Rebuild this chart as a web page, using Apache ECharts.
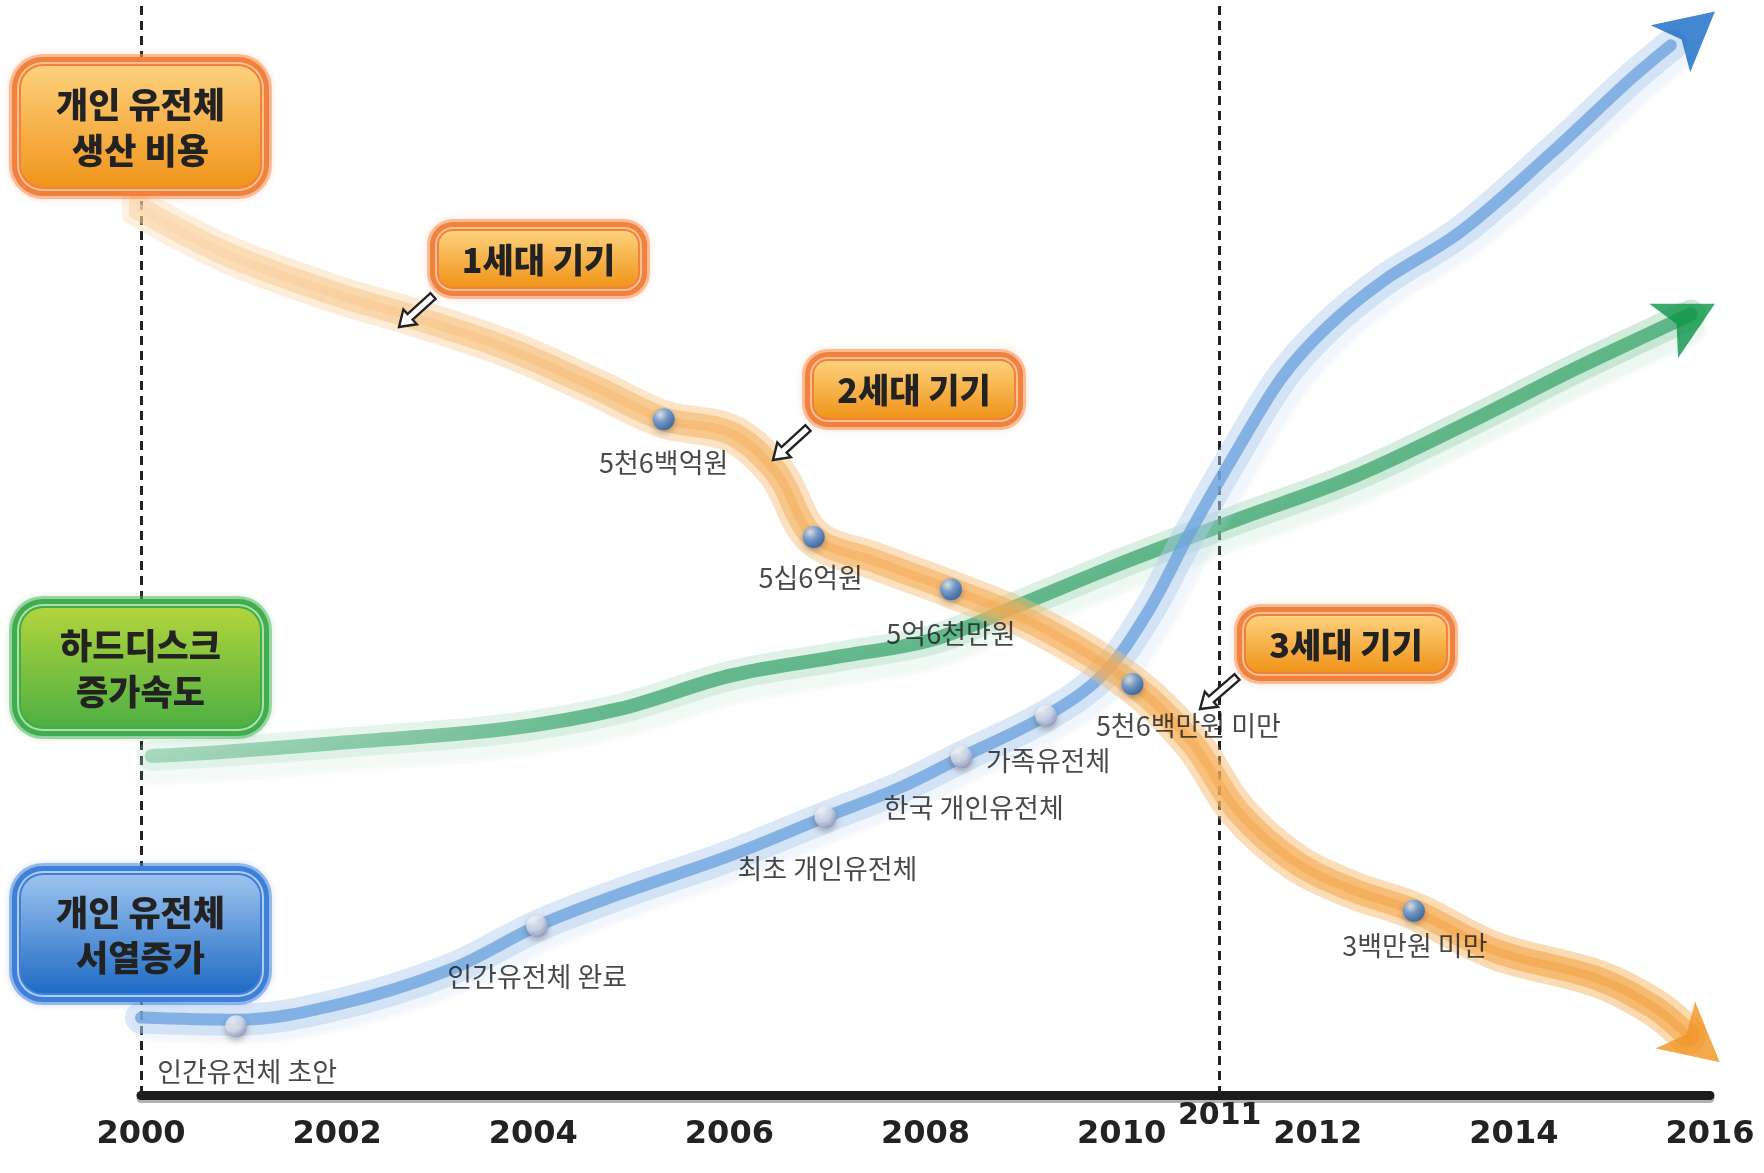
<!DOCTYPE html>
<html><head><meta charset="utf-8">
<script src="https://cdn.jsdelivr.net/npm/echarts@6/dist/echarts.min.js"></script>
<style>html,body{margin:0;padding:0;background:#fff}#c{width:1764px;height:1173px}</style>
</head><body><div id="c"></div>
<script>
// ---------- data (x = year, y = relative level 0..100) ----------
const xTicks = [2000, 2002, 2004, 2006, 2008, 2010, 2012, 2014, 2016];
const markYears = [2000, 2011];

const costCurve = [[1999.95,81.5],[2000.86,77.2],[2002.01,73.4],[2002.69,71.6],[2003.73,68.5],[2004.64,64.9],[2005.33,62.0],[2006.02,60.7],[2006.48,57.1],[2006.86,51.2],[2007.51,48.9],[2008.26,46.4],[2009.12,43.2],[2010.11,37.7],[2010.72,32.3],[2011.18,26.1],[2011.75,21.5],[2012.33,18.9],[2012.98,16.9],[2013.82,13.2],[2014.85,10.7],[2015.42,8.1],[2015.77,5.5]];
const diskCurve = [[2000.11,31.1],[2000.86,31.5],[2002.01,32.3],[2003.73,33.6],[2004.87,35.4],[2006.02,38.5],[2007.17,40.3],[2008.08,41.8],[2008.89,44.7],[2010.03,48.9],[2011.18,52.8],[2012.33,56.6],[2013.47,61.4],[2014.62,66.6],[2015.42,70.0],[2015.80,71.6]];
const seqCurve = [[2000.0,7.1],[2000.97,6.9],[2002.01,8.3],[2003.15,11.5],[2004.04,15.5],[2004.87,18.4],[2006.02,22.0],[2006.98,25.5],[2007.74,28.2],[2008.37,31.0],[2009.23,34.8],[2009.80,38.5],[2010.26,44.2],[2010.72,52.0],[2011.18,59.2],[2011.64,65.9],[2012.10,70.5],[2012.67,74.7],[2013.47,79.3],[2014.39,86.5],[2015.19,93.2],[2015.60,96.3]];

const costPoints = [[2005.33,62.0],[2006.86,51.2],[2008.26,46.4],[2010.11,37.7],[2012.98,16.9]];
const costLabels = ['5천6백억원','5십6억원','5억6천만원','5천6백만원 미만','3백만원 미만'];
const seqPoints = [[2000.97,6.3],[2004.04,15.5],[2006.98,25.5],[2008.37,31.0],[2009.23,34.8]];
const seqLabels = ['인간유전체 초안','인간유전체 완료','최초 개인유전체','한국 개인유전체','가족유전체'];

// arrow tips
const arrowHeads = { cost:[2016.10,3.0], disk:[2016.05,72.6], seq:[2016.05,99.4] };

// ---------- styling (offsets, sizes) ----------
const costLabelOffsets = [[0,44],[-3,41],[0,44],[56,42],[1,35]];
const seqLabelOffsets  = [[11,45],[0,51],[2,52],[12,51],[2,45]];

const KR = '"Noto Sans CJK KR", "Noto Sans", sans-serif';
const G = echarts.graphic;

function bandLayers(name, data, layers, z) {
  return layers.map((l, i) => ({
    name: name + i, type: 'line', data: data, smooth: 0.35,
    symbol: 'none', clip: false, silent: true, z: z + i,
    lineStyle: Object.assign({ cap: 'round', join: 'round' }, l)
  }));
}

const costLayers = [
  { width: 38, color: new G.LinearGradient(0,0,1,0,[{offset:0,color:'rgba(250,215,170,0.35)'},{offset:0.4,color:'rgba(247,190,120,0.45)'},{offset:1,color:'rgba(246,180,95,0.5)'}]) },
  { width: 24, color: new G.LinearGradient(0,0,1,0,[{offset:0,color:'rgba(249,205,150,0.45)'},{offset:0.4,color:'rgba(245,175,90,0.55)'},{offset:1,color:'rgba(243,165,70,0.6)'}]) },
  { width: 9,  color: new G.LinearGradient(0,0,1,0,[{offset:0,color:'rgba(250,215,175,0.5)'},{offset:0.4,color:'rgba(244,170,85,0.45)'},{offset:1,color:'rgba(240,155,55,0.5)'}]) }
];
const diskLayers = [
  { width: 30, color: new G.LinearGradient(0,0,1,0,[{offset:0,color:'rgba(170,220,190,0.25)'},{offset:1,color:'rgba(150,210,175,0.45)'}]), shadowColor:'rgba(160,215,185,0.45)', shadowOffsetY: 14, shadowBlur: 4 },
  { width: 14, color: new G.LinearGradient(0,0,1,0,[{offset:0,color:'rgba(90,180,130,0.45)'},{offset:0.3,color:'rgba(60,165,110,0.75)'},{offset:1,color:'rgba(50,160,100,0.7)'}]) }
];
const seqLayers = [
  { width: 32, color: 'rgba(175,205,240,0.45)', shadowColor:'rgba(185,210,242,0.45)', shadowOffsetX: 10, shadowOffsetY: 7, shadowBlur: 4 },
  { width: 12, color: 'rgba(105,160,220,0.75)' }
];

function pointSeries(name, pts, labels, offsets, grad, z) {
  return {
    name: name, type: 'scatter', z: z, clip: false, silent: true,
    symbolSize: 22,
    itemStyle: { color: grad, shadowColor: 'rgba(0,0,0,0.35)', shadowBlur: 6, shadowOffsetY: 3 },
    label: { show: true, position: 'inside', fontFamily: KR, fontSize: 27, color: '#1a1a1a' },
    data: pts.map((p, i) => ({ value: p, label: { formatter: labels[i], offset: offsets[i] } }))
  };
}
const blueBall = new G.RadialGradient(0.35,0.3,0.75,[{offset:0,color:'#e4efff'},{offset:0.45,color:'#5f9be2'},{offset:1,color:'#1d58ad'}]);
const whiteBall = new G.RadialGradient(0.35,0.3,0.75,[{offset:0,color:'#ffffff'},{offset:0.55,color:'#dde1f0'},{offset:1,color:'#8891b8'}]);

function arrowSeries(name, pos, rot, color) {
  return { name: name, type: 'scatter', z: 30, clip: false, silent: true,
    symbol: 'arrow', symbolSize: [46, 58], symbolRotate: rot,
    itemStyle: { color: color }, data: [pos] };
}

// ---------- annotation boxes ----------
const themes = {
  orange: { glow:'rgba(245,150,90,0.55)', ring:'#f0813f', light:'#fbc08e', top:'#fdd17c', bottom:'#f0941a' },
  green:  { glow:'rgba(80,180,90,0.5)',  ring:'#3fae50', light:'#b3e0a2', top:'#b2d43c', bottom:'#4eb042' },
  blue:   { glow:'rgba(70,130,220,0.5)', ring:'#3d80d8', light:'#b2c9f0', top:'#9cc3ee', bottom:'#1f6bc5' }
};
const boxes = [
  { x:9,   y:54,  w:263, h:145, r:34, t:'orange', text:'개인 유전체\n생산 비용', fs:35 },
  { x:9,   y:596, w:263, h:143, r:34, t:'green',  text:'하드디스크\n증가속도', fs:35 },
  { x:9,   y:863, w:263, h:142, r:34, t:'blue',   text:'개인 유전체\n서열증가', fs:35 },
  { x:427, y:219, w:223, h:80,  r:26, t:'orange', text:'1세대 기기', fs:34 },
  { x:802, y:349, w:224, h:81,  r:26, t:'orange', text:'2세대 기기', fs:34 },
  { x:1234,y:604, w:224, h:80,  r:26, t:'orange', text:'3세대 기기', fs:34 }
];
const pointers = [[433,296,399,327],[808,428,773,460],[1237,677,1200,709]];

function boxGraphic(b) {
  const th = themes[b.t];
  const rr = (ins) => ({ x:b.x+ins, y:b.y+ins, width:b.w-2*ins, height:b.h-2*ins, r:Math.max(4,b.r-ins) });
  return [
    { type:'rect', z:100, shape: rr(0), style:{ fill: th.glow, shadowBlur:6, shadowColor: th.glow } },
    { type:'rect', z:101, shape: rr(3), style:{ fill: th.ring } },
    { type:'rect', z:102, shape: rr(8), style:{ fill: th.light } },
    { type:'rect', z:103, shape: rr(10), style:{ fill: th.ring } },
    { type:'rect', z:104, shape: rr(12), style:{ fill: new G.LinearGradient(0,0,0,1,[{offset:0,color:th.top},{offset:1,color:th.bottom}]) } },
    { type:'text', z:105, x: b.x + b.w/2, y: b.y + b.h/2 + 1, style:{ text: b.text, fill:'#222', font: '900 ' + b.fs + 'px ' + KR, align:'center', verticalAlign:'middle', lineHeight: b.fs*1.3 } }
  ];
}
function hollowArrow(a) {
  const [x1,y1,x2,y2] = a;
  const dx = x2-x1, dy = y2-y1, L = Math.hypot(dx,dy), ux = dx/L, uy = dy/L, nx = -uy, ny = ux;
  const hw = 3.8, hl = 15, hh = 10;
  const P = (t,s) => [x1+ux*t+nx*s, y1+uy*t+ny*s];
  return { type:'polygon', z:110, shape:{ points:[P(0,-hw),P(L-hl,-hw),P(L-hl,-hh),P(L,0),P(L-hl,hh),P(L-hl,hw),P(0,hw)] },
    style:{ fill:'#fff', stroke:'#222', lineWidth:2.4, lineJoin:'miter' } };
}

const option = {
  backgroundColor: '#fff',
  animation: false,
  grid: { left: 141, right: 54, top: 5, bottom: 78 },
  xAxis: {
    type: 'value', min: 2000, max: 2016, interval: 2,
    axisLine: { show: true, onZero: false, lineStyle: { color: '#1c1c1c', width: 9, shadowColor:'rgba(0,0,0,0.3)', shadowOffsetY: 3 } },
    axisTick: { show: false }, splitLine: { show: false },
    axisLabel: { show: true, margin: 24, fontSize: 32, fontWeight: 'bold', fontFamily: '"DejaVu Sans", sans-serif', color: '#222',
      showMinLabel: true, showMaxLabel: true, formatter: v => xTicks.indexOf(v) >= 0 ? String(v) : '' }
  },
  yAxis: { type: 'value', min: 0, max: 100, show: false, splitLine: { show: false } },
  series: [
    { type:'line', data:[], z:1, silent:true,
      markLine: { symbol:'none', silent:true, animation:false,
        lineStyle:{ color:'#222', type:[9,6], width:3 },
        data: markYears.map(y => ({ xAxis: y, label: y === 2011
          ? { show:true, position:'start', formatter:String(y), distance: 6, fontSize: 30, fontWeight:'bold', fontFamily:'"DejaVu Sans", sans-serif', color:'#222' }
          : { show:false } })) } },
    ...bandLayers('disk', diskCurve, diskLayers, 5),
    ...bandLayers('seq', seqCurve, seqLayers, 8),
    ...bandLayers('cost', costCurve, costLayers, 11),
    arrowSeries('costArrow', arrowHeads.cost, -130, '#f39420'),
    arrowSeries('diskArrow', arrowHeads.disk, -62, '#0b9548'),
    arrowSeries('seqArrow', arrowHeads.seq, -50, '#1469c4'),
    pointSeries('seqPts', seqPoints, seqLabels, seqLabelOffsets, whiteBall, 40),
    pointSeries('costPts', costPoints, costLabels, costLabelOffsets, blueBall, 41)
  ],
  graphic: { elements: [ ...boxes.flatMap(boxGraphic), ...pointers.map(hollowArrow) ] }
};

const chart = echarts.init(document.getElementById('c'));
chart.setOption(option);
</script>
</body></html>
